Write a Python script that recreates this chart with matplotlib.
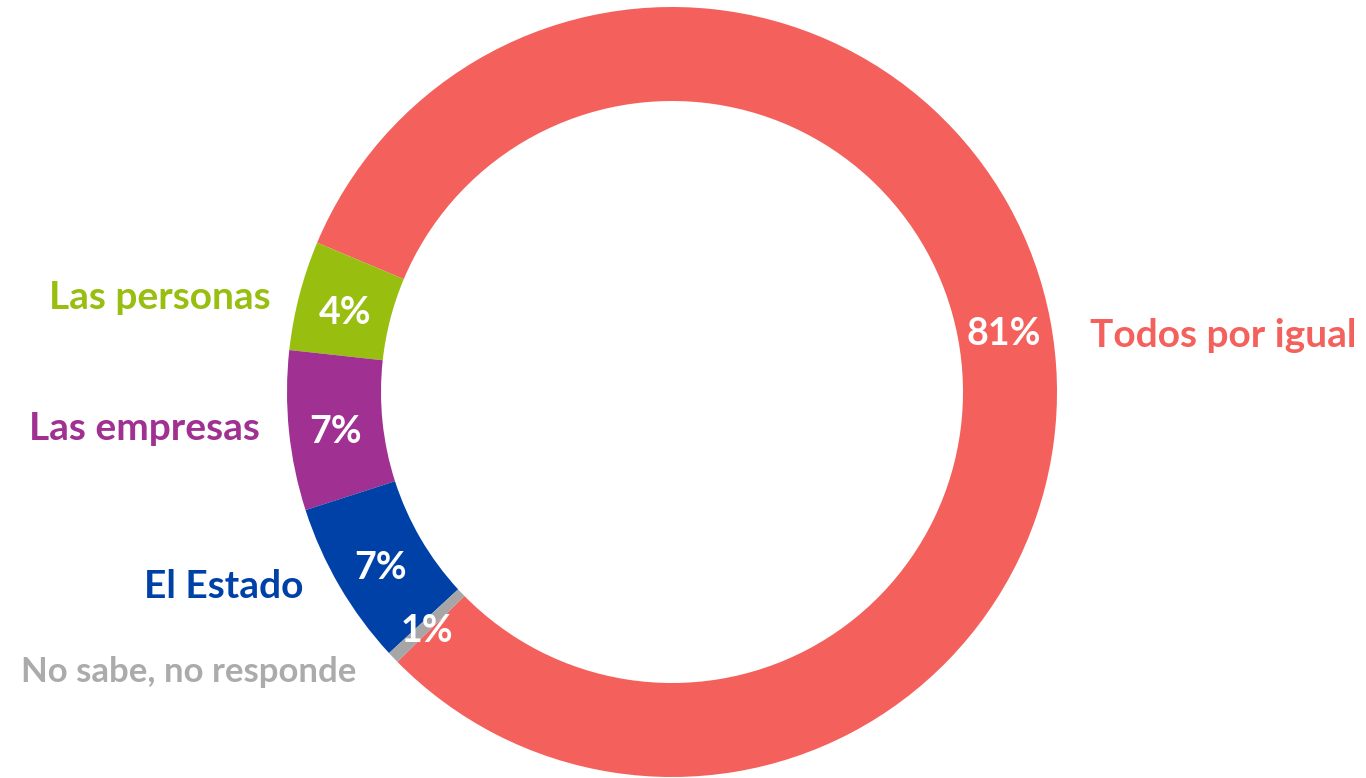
import matplotlib.pyplot as plt
import numpy as np

# Data
categories = ['Todos por igual', 'Las personas', 'Las empresas', 'El Estado', 'No sabe, no responde']
values = [81.3, 4.6, 6.7, 6.9, 0.5]
pct_labels = ['81%', '4%', '7%', '7%', '1%']
colors = ['#F4605C', '#98BE10', '#A03092', '#0041A8', '#A6A6A6']
text_colors = ['#F4605C', '#98BE10', '#A03092', '#0041A8', '#ABABAB']

plt.rcParams['font.family'] = ['Lato', 'DejaVu Sans']

W, H = 1366, 778
fig = plt.figure(figsize=(W / 100, H / 100), dpi=100)
ax = fig.add_axes([0, 0, 1, 1])

cx, cy, r = 672, H - 392, 385
wedges, texts = ax.pie(values, colors=colors, startangle=-135.5, counterclock=True,
                       center=(cx, cy), radius=r,
                       wedgeprops=dict(width=94, linewidth=0))

# percentage labels inside the ring
for w, lab in zip(wedges, pct_labels):
    ang = np.deg2rad((w.theta1 + w.theta2) / 2)
    ax.text(cx + 338 * np.cos(ang), cy + 338 * np.sin(ang) - 6, lab, color='white',
            fontsize=27, fontweight='bold', ha='center', va='center')

# category labels (x, y in pixels from top-left, alignment)
label_pos = [(1090, 335, 'left'), (271, 297, 'right'), (260, 428, 'right'),
             (303, 587, 'right'), (356, 672, 'right')]
sizes = [28, 28, 28, 28, 25]
for name, (x, y, ha), c, s in zip(categories, label_pos, text_colors, sizes):
    ax.text(x, H - y, name, color=c, fontsize=s, fontweight='bold', ha=ha, va='center')

ax.set_xlim(0, W)
ax.set_ylim(0, H)
ax.set_aspect('equal')
ax.axis('off')

fig.savefig('out.png', dpi=100)
